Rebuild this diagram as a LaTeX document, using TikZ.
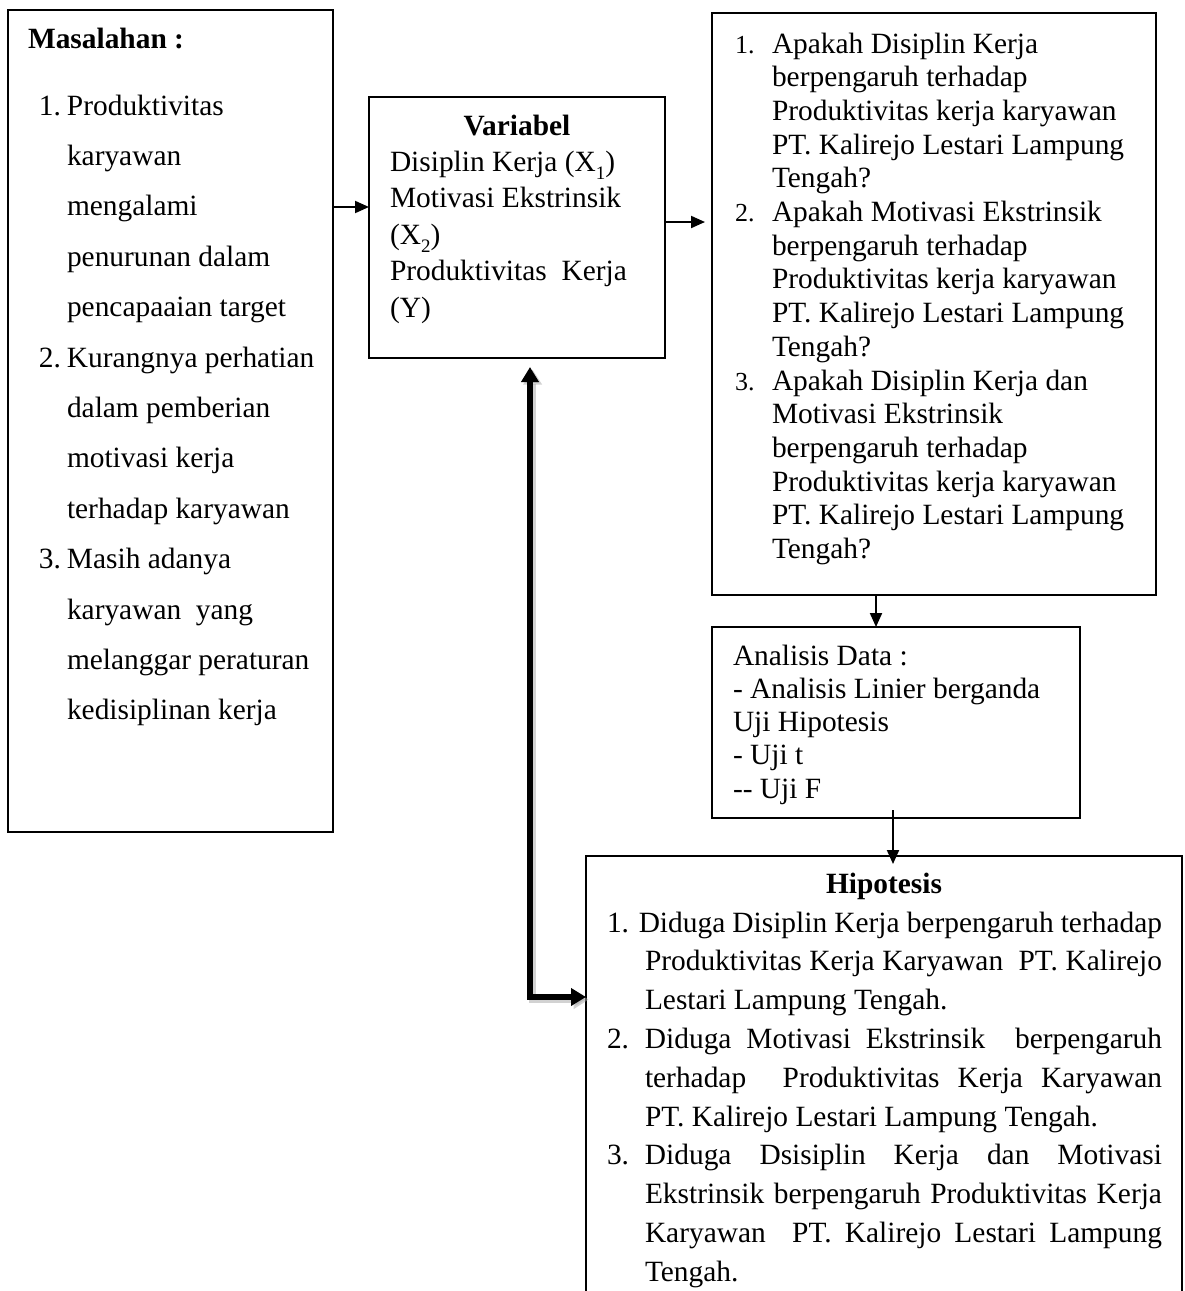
\documentclass[tikz,border=0pt]{standalone}
\usepackage{fontspec}
\setmainfont{Liberation Serif}
\usetikzlibrary{arrows.meta,calc}
\newcommand\fs[1]{\fontsize{14.7pt}{#1}\selectfont}
\newcommand\qn[1]{{\fontsize{13pt}{13pt}\selectfont #1}}
\newcommand\sub[1]{\raisebox{-4pt}{\fontsize{9.5pt}{9.5pt}\selectfont #1}}
\tikzset{
  boxnode/.style={draw, line width=1pt, anchor=north west, inner sep=0pt, outer sep=0pt},
  txt/.style={anchor=base west, inner sep=0pt, outer sep=0pt},
  ttl/.style={anchor=base, inner sep=0pt, outer sep=0pt},
  thinarrow/.style={line width=1pt, -{Triangle[length=7pt,width=6pt]}},
  bigarrow/.style={line width=3pt, {Triangle[length=7.5pt,width=8.5pt]}-{Triangle[length=7.5pt,width=8.5pt]}},
  bigshadow/.style={line width=3.6pt, black!35, opacity=0.5, {Triangle[length=7.5pt,width=9pt]}-{Triangle[length=7.5pt,width=9pt]}},
}
\begin{document}
\begin{tikzpicture}[x=0.5pt,y=-0.5pt]
\useasboundingbox (0,0) rectangle (1184,1291);
\fill[white] (0,0) rectangle (1184,1291);

% boxes
\node[boxnode, minimum width=162.5pt, minimum height=411pt] (mas) at (8,10) {};
\node[boxnode, minimum width=148pt, minimum height=130.5pt] (var) at (369,97) {};
\node[boxnode, minimum width=222pt, minimum height=291pt] (q) at (712,13) {};
\node[boxnode, minimum width=184pt, minimum height=95.5pt] (ana) at (712,627) {};
\node[anchor=north west, inner sep=0pt, outer sep=0pt, minimum width=298pt, minimum height=218pt] (hip) at (586,856) {};
\draw[line width=1pt] (hip.south west) -- (hip.north west) -- (hip.north east) -- (hip.south east);

% Masalahan
\node[txt, font={\fs{17pt}\bfseries}] (mt) at (28,48) {Masalahan :};
\node[txt, font={\fs{25.2pt}}] (ml) at (39,115) {\begin{tabular}[t]{@{}p{14pt}@{}l@{}}
1. & Produktivitas\\
 & karyawan\\
 & mengalami\\
 & penurunan dalam\\
 & pencapaaian target\\
2. & Kurangnya perhatian\\
 & dalam pemberian\\
 & motivasi kerja\\
 & terhadap karyawan\\
3. & Masih adanya\\
 & karyawan\ \ yang\\
 & melanggar peraturan\\
 & kedisiplinan kerja
\end{tabular}};

% Variabel
\node[ttl, font={\fs{17pt}\bfseries}] (vt) at (517,135) {Variabel};
\node[txt, font={\fs{18.25pt}}] (vl) at (390,171) {\begin{tabular}[t]{@{}l@{}}
Disiplin Kerja (X\sub{1})\\
Motivasi Ekstrinsik\\
(X\sub{2})\\
Produktivitas\ \ Kerja\\
(Y)
\end{tabular}};

% Questions
\node[txt, font={\fs{16.85pt}}] (ql) at (735,53) {\begin{tabular}[t]{@{}p{18.5pt}@{}l@{}}
\qn{1.} & Apakah Disiplin Kerja\\
 & berpengaruh terhadap\\
 & Produktivitas kerja karyawan\\
 & PT. Kalirejo Lestari Lampung\\
 & Tengah?\\
\qn{2.} & Apakah Motivasi Ekstrinsik\\
 & berpengaruh terhadap\\
 & Produktivitas kerja karyawan\\
 & PT. Kalirejo Lestari Lampung\\
 & Tengah?\\
\qn{3.} & Apakah Disiplin Kerja dan\\
 & Motivasi Ekstrinsik\\
 & berpengaruh terhadap\\
 & Produktivitas kerja karyawan\\
 & PT. Kalirejo Lestari Lampung\\
 & Tengah?
\end{tabular}};

% Analisis
\node[txt, font={\fs{16.65pt}}] (al) at (733,665) {\begin{tabular}[t]{@{}l@{}}
Analisis Data :\\
- Analisis Linier berganda\\
Uji Hipotesis\\
- Uji t\\
-{}- Uji F
\end{tabular}};

% Hipotesis
\node[ttl, font={\fs{19pt}\bfseries}] (ht) at (884,893) {Hipotesis};
\node[txt, font={\fs{19.4pt}}] (hl) at (607,932) {\begin{tabular}[t]{@{}p{19pt}@{}l@{}}
\multicolumn{2}{@{}l@{}}{\makebox[277.5pt][s]{1. Diduga Disiplin Kerja berpengaruh terhadap}}\\
 & \makebox[258.5pt][s]{Produktivitas Kerja Karyawan\ \ PT. Kalirejo}\\
 & Lestari Lampung Tengah.\\
2. & \makebox[258.5pt][s]{Diduga Motivasi Ekstrinsik\ \ berpengaruh}\\
 & \makebox[258.5pt][s]{terhadap\ \ Produktivitas Kerja Karyawan}\\
 & PT. Kalirejo Lestari Lampung Tengah.\\
3. & \makebox[258.5pt][s]{Diduga Dsisiplin Kerja dan Motivasi}\\
 & \makebox[258.5pt][s]{Ekstrinsik berpengaruh Produktivitas Kerja}\\
 & \makebox[258.5pt][s]{Karyawan\ \ PT. Kalirejo Lestari Lampung}\\
 & Tengah.
\end{tabular}};

% connectors
\coordinate (a1) at (0,207);
\coordinate (a2) at (0,222);
\coordinate (a3) at (876,0);
\coordinate (a4) at (893,0);
\coordinate (c1) at (530,997);
\draw[thinarrow] (mas.east |- a1) -- (var.west |- a1);
\draw[thinarrow] (var.east |- a2) -- ($(q.west |- a2)+(-7,0)$);
\draw[thinarrow] (q.south -| a3) -- (ana.north -| a3);
\draw[thinarrow] ($(ana.south -| a4)+(0,-8)$) -- ($(hip.north -| a4)+(0,8)$);
\begin{scope}[transform canvas={xshift=1.3pt,yshift=-1.3pt}]
\draw[bigshadow] ($(var.south -| c1)+(0,9)$) -- (c1) -- (hip.west |- c1);
\end{scope}
\draw[bigarrow] ($(var.south -| c1)+(0,9)$) -- (c1) -- (hip.west |- c1);
\end{tikzpicture}
\end{document}
